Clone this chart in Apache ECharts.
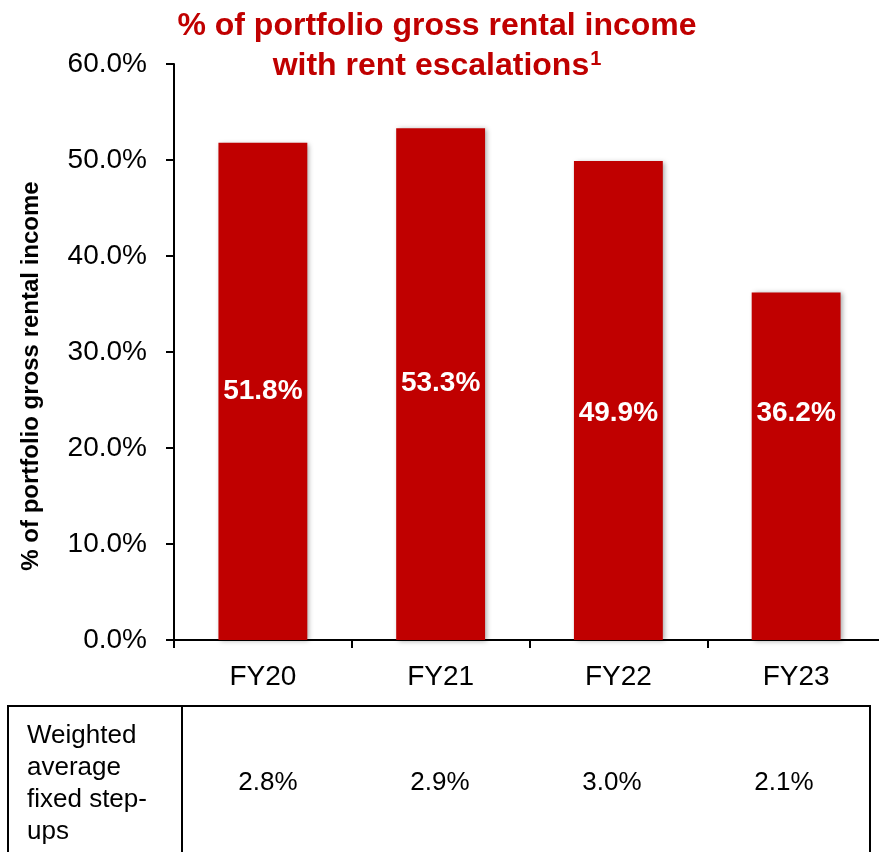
<!DOCTYPE html>
<html>
<head>
<meta charset="utf-8">
<script src="https://cdn.jsdelivr.net/npm/echarts@6/dist/echarts.min.js"></script>
<style>
html,body{margin:0;padding:0;background:#fff;overflow:hidden;}
#chart{width:900px;height:852px;}
</style>
</head>
<body>
<div id="chart"></div>
<script>
// ---- data ----
const categories = ['FY20', 'FY21', 'FY22', 'FY23'];
const rentEscalationShare = [51.8, 53.3, 49.9, 36.2];
const stepUpValues = ['2.8%', '2.9%', '3.0%', '2.1%'];
const stepUpLabel = 'Weighted\naverage\nfixed step-\nups';
const yTicks = { min: 0, max: 60, interval: 10 };
const titleLine1 = '% of portfolio gross rental income';
const titleLine2 = 'with rent escalations';
const titleNote = '1';
const yAxisTitle = '% of portfolio gross rental income';

// ---- styling / layout (not data) ----
const RED = '#C00000';
const FONT = '"Liberation Sans", Arial, Helvetica, sans-serif';
const labelOffsetsY = [0, -1, 13, -53];
const table = { left: 8, top: 706, right: 870, divider: 182, bottom: 900 };

const chart = echarts.init(document.getElementById('chart'), null, { renderer: 'canvas' });

const barData = rentEscalationShare.map((v, i) => ({
  value: v,
  label: { offset: [0, labelOffsetsY[i]] }
}));

const colW = (table.right - table.divider) / stepUpValues.length;
const tableGraphics = [
  { type: 'polyline', shape: { points: [[table.left, table.bottom], [table.left, table.top], [table.right, table.top], [table.right, table.bottom]] },
    style: { stroke: '#000', lineWidth: 2, fill: null } },
  { type: 'line', shape: { x1: table.divider, y1: table.top, x2: table.divider, y2: table.bottom },
    style: { stroke: '#000', lineWidth: 2 } },
  { type: 'text', x: 27, y: 784,
    style: { text: stepUpLabel, font: '26px ' + FONT, fill: '#000', lineHeight: 32, textAlign: 'left', textVerticalAlign: 'middle' } }
].concat(stepUpValues.map((t, i) => ({
  type: 'text', x: table.divider + colW * (i + 0.5), y: 783,
  style: { text: t, font: '26px ' + FONT, fill: '#000', textAlign: 'center', textVerticalAlign: 'middle' }
})));

const option = {
  backgroundColor: '#fff',
  animation: false,
  title: {
    text: '{t|' + titleLine1 + '}\n{t|' + titleLine2 + '}{sup|' + titleNote + '}',
    left: 432,
    top: 1,
    textAlign: 'center',
    textStyle: {
      rich: {
        t: { fontSize: 32, fontWeight: 'bold', color: RED, fontFamily: FONT, lineHeight: 40 },
        sup: { fontSize: 20, fontWeight: 'bold', color: RED, fontFamily: FONT, lineHeight: 40, padding: [0, 0, 14, 1] }
      }
    }
  },
  grid: { left: 174, top: 64, width: 711, height: 576, containLabel: false },
  xAxis: {
    type: 'category',
    data: categories,
    axisLine: { lineStyle: { color: '#000', width: 2 } },
    axisTick: { show: true, alignWithLabel: false, length: 8, lineStyle: { color: '#000', width: 2 } },
    axisLabel: { fontSize: 28, color: '#000', fontFamily: FONT, margin: 23 },
    splitLine: { show: false }
  },
  yAxis: {
    type: 'value',
    min: yTicks.min, max: yTicks.max, interval: yTicks.interval,
    axisLine: { show: true, lineStyle: { color: '#000', width: 2 } },
    axisTick: { show: true, length: 8, lineStyle: { color: '#000', width: 2 } },
    axisLabel: { fontSize: 28, color: '#000', fontFamily: FONT, margin: 27,
      formatter: v => v.toFixed(1) + '%' },
    splitLine: { show: false }
  },
  series: [{
    type: 'bar',
    data: barData,
    barWidth: '50%',
    itemStyle: { color: RED, shadowColor: 'rgba(0,0,0,0.35)', shadowBlur: 5, shadowOffsetX: 2, shadowOffsetY: 1 },
    label: {
      show: true, position: 'inside', color: '#fff', fontSize: 28, fontWeight: 'bold', fontFamily: FONT,
      formatter: p => p.value.toFixed(1) + '%'
    }
  }],
  graphic: [
    { type: 'text', x: 31, y: 376, rotation: Math.PI / 2,
      style: { text: yAxisTitle, font: 'bold 24px ' + FONT, fill: '#000', textAlign: 'center', textVerticalAlign: 'middle' } }
  ].concat(tableGraphics)
};

chart.setOption(option);
</script>
</body>
</html>
